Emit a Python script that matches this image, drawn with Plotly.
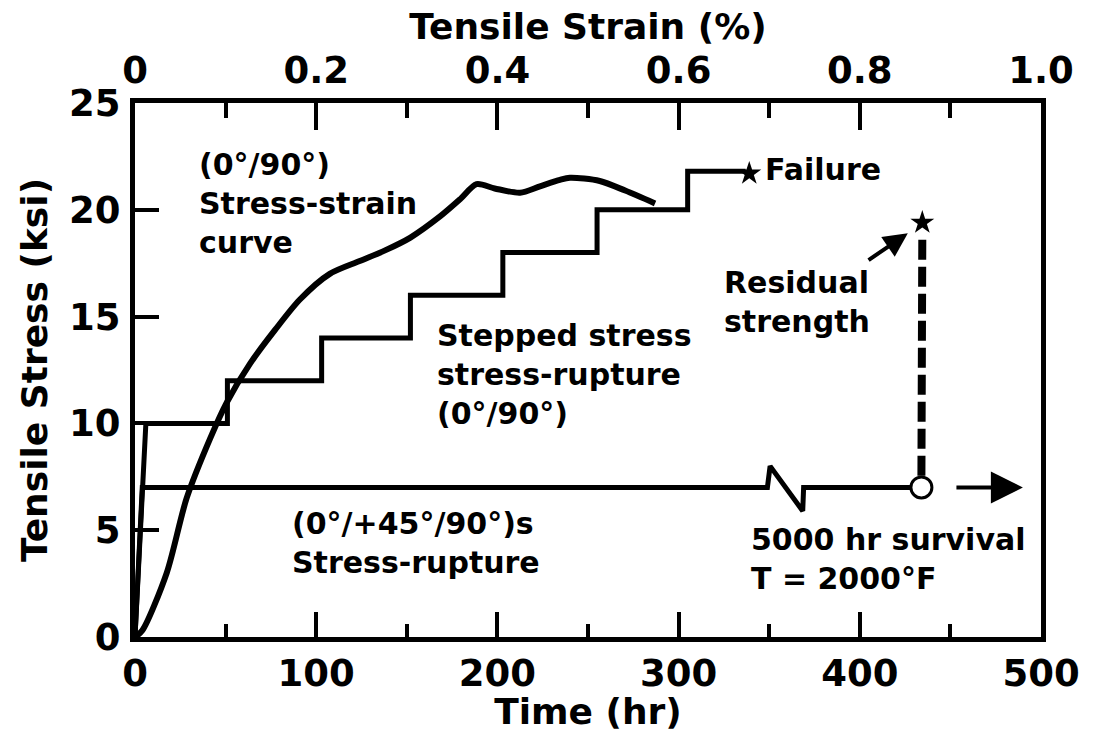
import plotly.graph_objects as go

# Stepped-stress stress-rupture test, (0/90) laminate: time (hr) vs stress (ksi)
step_time = [0, 6, 51, 51, 103, 103, 152, 152, 203, 203, 255, 255, 305, 305, 337]
step_stress = [0, 10, 10, 12, 12, 14, 14, 16, 16, 18, 18, 20, 20, 21.8, 21.8]

# Constant-stress rupture test, (0/+45/90)s laminate, with a break in the time axis
rupture_time = [0, 4, 349, 350.5, 368.5, 369, 434]
rupture_stress = [0, 7, 7, 8.0, 5.9, 7, 7]

# (0/90) monotonic stress-strain curve: strain (%) vs stress (ksi)
ss_strain = [0, 0.008, 0.035, 0.057, 0.083, 0.1015, 0.127, 0.155, 0.182, 0.215,
             0.248, 0.276, 0.304, 0.337, 0.359, 0.377, 0.397, 0.425, 0.447, 0.469,
             0.48, 0.513, 0.541, 0.574]
ss_stress = [0, 0.3, 3.0, 6.5, 9.3, 11.0, 12.8, 14.4, 15.8, 17.0,
             17.6, 18.1, 18.7, 19.7, 20.5, 21.2, 21.0, 20.8, 21.1, 21.4,
             21.5, 21.35, 20.9, 20.3]

failure_time, failure_stress = [339], [21.7]
residual_time, residual_stress = [434.5], [19.4]
survival_time, survival_stress = [434], [7]

x_ticks = [0, 100, 200, 300, 400, 500]
y_ticks = [0, 5, 10, 15, 20, 25]
strain_ticks = [0, 0.2, 0.4, 0.6, 0.8, 1.0]

FONT = "DejaVu Sans"
INK = "black"

fig = go.Figure()

fig.add_trace(go.Scatter(x=step_time, y=step_stress, mode="lines",
                         line=dict(color=INK, width=5), hoverinfo="skip"))
fig.add_trace(go.Scatter(x=rupture_time, y=rupture_stress, mode="lines",
                         line=dict(color=INK, width=5), hoverinfo="skip"))
fig.add_trace(go.Scatter(x=ss_strain, y=ss_stress, mode="lines", xaxis="x2",
                         line=dict(color=INK, width=6, shape="spline", smoothing=0.8),
                         hoverinfo="skip"))
# residual strength check after 5000 hr survival
fig.add_trace(go.Scatter(x=[survival_time[0], residual_time[0]],
                         y=[survival_stress[0] + 0.55, residual_stress[0] - 0.55],
                         mode="lines", line=dict(color=INK, width=8, dash="20px,7px"),
                         hoverinfo="skip"))
fig.add_trace(go.Scatter(x=survival_time, y=survival_stress, mode="markers",
                         marker=dict(symbol="circle", size=21, color="white",
                                     line=dict(color=INK, width=3)), hoverinfo="skip"))
fig.add_trace(go.Scatter(x=failure_time + residual_time, y=failure_stress + residual_stress,
                         mode="markers", marker=dict(symbol="star", size=18, color=INK,
                                                     line=dict(width=0)),
                         hoverinfo="skip"))

ann_font = dict(family=FONT, size=30, color=INK, weight="bold")
notes = [
    (34, 20.3, "(0°/90°)<br>Stress-strain<br>curve"),
    (165.5, 12.3, "Stepped stress<br>stress-rupture<br>(0°/90°)"),
    (85.5, 4.4, "(0°/+45°/90°)s<br>Stress-rupture"),
    (339, 3.65, "5000 hr survival<br>T = 2000°F"),
    (346.5, 21.9, "Failure"),
    (324, 15.7, "Residual<br>strength"),
]
for x, y, txt in notes:
    fig.add_annotation(x=x, y=y, xref="x", yref="y", text=txt, showarrow=False,
                       xanchor="left", yanchor="middle", align="left", font=ann_font)

# pointer to the residual-strength star
fig.add_annotation(x=426.5, y=18.9, ax=404, ay=17.6, xref="x", yref="y",
                   axref="x", ayref="y", text="", showarrow=True,
                   arrowhead=2, arrowsize=1.2, arrowwidth=4, arrowcolor=INK)
# survival continues beyond the test
fig.add_annotation(x=490, y=7, ax=452.5, ay=7, xref="x", yref="y",
                   axref="x", ayref="y", text="", showarrow=True,
                   arrowhead=2, arrowsize=1.6, arrowwidth=4, arrowcolor=INK)

tick_font = dict(family=FONT, size=37, color=INK, weight="bold")
title_font = dict(family=FONT, size=36, color=INK, weight="bold")

fig.update_layout(
    width=1096, height=732,
    margin=dict(l=135, r=55, t=103, b=95),
    paper_bgcolor="white", plot_bgcolor="white",
    showlegend=False,
    xaxis=dict(range=[0, 500], tickvals=x_ticks, ticks="inside", ticklen=25,
               tickwidth=4, tickcolor=INK, showline=True, linewidth=5, linecolor=INK,
               showgrid=False, zeroline=False, tickfont=tick_font,
               ticklabelstandoff=0,
               minor=dict(dtick=50, tick0=0, ticks="inside", ticklen=13, tickwidth=4,
                          tickcolor=INK, showgrid=False),
               title=dict(text="Time (hr)", font=title_font, standoff=0)),
    xaxis2=dict(range=[0, 1.0], overlaying="x", side="top", tickvals=strain_ticks,
                ticktext=["0", "0.2", "0.4", "0.6", "0.8", "1.0"],
                ticks="inside", ticklen=27, tickwidth=4, tickcolor=INK,
                showline=True, linewidth=5, linecolor=INK, showgrid=False,
                zeroline=False, tickfont=tick_font, ticklabelstandoff=0,
                minor=dict(dtick=0.1, tick0=0, ticks="inside", ticklen=15, tickwidth=4,
                           tickcolor=INK, showgrid=False),
                title=dict(text="Tensile Strain (%)", font=title_font, standoff=0)),
    yaxis=dict(range=[0, 25], tickvals=y_ticks, ticks="inside", ticklen=24,
               tickwidth=4, tickcolor=INK, showline=True, linewidth=5, linecolor=INK,
               mirror=True, showgrid=False, zeroline=False, tickfont=tick_font,
               ticklabelstandoff=2,
               title=dict(text="Tensile Stress (ksi)", font=title_font, standoff=12)),
)

fig.write_html("out.html")
